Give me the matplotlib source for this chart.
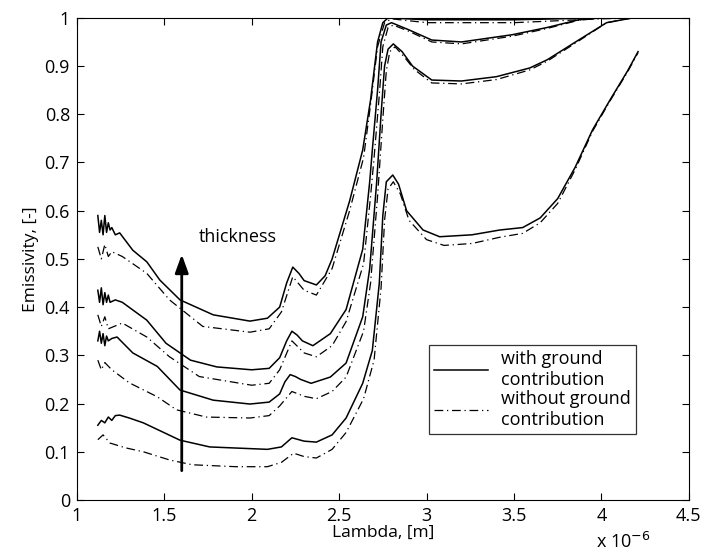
import matplotlib
matplotlib.use("Agg")
import matplotlib.pyplot as plt

plt.rcParams["font.family"] = ["Open Sans", "DejaVu Sans"]

# wavelength [1e-6 m] and emissivity, thin -> thick layers
# solid = with ground contribution, dash-dot = without ground contribution
lam_s1 = [1.12, 1.13, 1.14, 1.15, 1.16, 1.17, 1.18, 1.19, 1.20, 1.22, 1.245, 1.32, 1.40, 1.475, 1.59,
          1.78, 1.99, 2.09, 2.16, 2.20, 2.235, 2.27, 2.30, 2.37, 2.42, 2.46, 2.56, 2.635, 2.68, 2.72,
          2.75, 2.78, 3.0, 3.5, 4.0, 4.22]
emi_s1 = [0.59, 0.555, 0.58, 0.55, 0.59, 0.555, 0.575, 0.56, 0.565, 0.55, 0.554, 0.518, 0.494, 0.456,
          0.415, 0.384, 0.371, 0.377, 0.40, 0.45, 0.483, 0.47, 0.455, 0.446, 0.465, 0.50, 0.62, 0.726,
          0.83, 0.95, 0.99, 1.0, 0.996, 0.996, 1.0, 1.0]
lam_d1 = [1.12, 1.14, 1.16, 1.18, 1.20, 1.26, 1.40, 1.53, 1.72, 1.99, 2.10, 2.17, 2.235, 2.30, 2.37,
          2.46, 2.56, 2.64, 2.68, 2.72, 2.76, 2.80, 3.0, 3.5, 4.0, 4.22]
emi_d1 = [0.525, 0.50, 0.53, 0.505, 0.515, 0.505, 0.47, 0.415, 0.36, 0.348, 0.355, 0.39, 0.463, 0.435,
          0.425, 0.48, 0.60, 0.71, 0.82, 0.94, 0.99, 0.998, 0.99, 0.99, 0.998, 1.0]

lam_s2 = [1.12, 1.13, 1.14, 1.15, 1.16, 1.17, 1.18, 1.19, 1.22, 1.26, 1.40, 1.51, 1.65, 1.80, 2.0, 2.1,
          2.16, 2.20, 2.23, 2.26, 2.29, 2.35, 2.45, 2.54, 2.635, 2.675, 2.69, 2.72, 2.74, 2.77, 2.80,
          2.9, 3.03, 3.2, 3.49, 3.69, 3.87, 4.0, 4.22]
emi_s2 = [0.435, 0.41, 0.44, 0.405, 0.43, 0.41, 0.425, 0.41, 0.415, 0.41, 0.373, 0.325, 0.29, 0.276,
          0.27, 0.273, 0.295, 0.33, 0.35, 0.342, 0.33, 0.32, 0.345, 0.395, 0.52, 0.66, 0.726, 0.85,
          0.95, 0.985, 0.99, 0.975, 0.954, 0.95, 0.965, 0.98, 0.996, 1.0, 1.0]
lam_d2 = [1.12, 1.14, 1.16, 1.18, 1.26, 1.40, 1.53, 1.70, 2.0, 2.1, 2.16, 2.23, 2.30, 2.37, 2.46, 2.54,
          2.64, 2.68, 2.70, 2.73, 2.75, 2.78, 2.81, 2.9, 3.03, 3.2, 3.49, 3.69, 3.87, 4.0, 4.22]
emi_d2 = [0.384, 0.36, 0.38, 0.355, 0.367, 0.338, 0.297, 0.256, 0.238, 0.242, 0.27, 0.33, 0.305, 0.297,
          0.32, 0.37, 0.49, 0.63, 0.71, 0.84, 0.94, 0.98, 0.985, 0.972, 0.95, 0.946, 0.962, 0.978,
          0.995, 1.0, 1.0]

lam_s3 = [1.12, 1.13, 1.14, 1.15, 1.16, 1.17, 1.18, 1.20, 1.23, 1.32, 1.46, 1.59, 1.78, 1.99, 2.1,
          2.16, 2.19, 2.22, 2.25, 2.28, 2.34, 2.45, 2.54, 2.635, 2.675, 2.715, 2.74, 2.76, 2.78, 2.81,
          2.86, 2.92, 3.03, 3.2, 3.4, 3.59, 3.69, 3.87, 4.03, 4.18, 4.22]
emi_s3 = [0.33, 0.35, 0.325, 0.345, 0.32, 0.34, 0.33, 0.335, 0.338, 0.305, 0.277, 0.228, 0.207, 0.199,
          0.203, 0.22, 0.245, 0.26, 0.256, 0.25, 0.242, 0.255, 0.284, 0.38, 0.48, 0.66, 0.80, 0.90,
          0.935, 0.946, 0.93, 0.90, 0.871, 0.869, 0.878, 0.896, 0.913, 0.954, 0.99, 1.0, 1.0]
lam_d3 = [1.12, 1.14, 1.16, 1.20, 1.30, 1.46, 1.57, 1.74, 1.99, 2.1, 2.16, 2.23, 2.30, 2.37, 2.46, 2.54,
          2.64, 2.68, 2.72, 2.75, 2.77, 2.79, 2.82, 2.87, 2.93, 3.03, 3.2, 3.4, 3.59, 3.69, 3.87, 4.03,
          4.18, 4.22]
emi_d3 = [0.29, 0.27, 0.285, 0.27, 0.243, 0.214, 0.187, 0.172, 0.17, 0.175, 0.195, 0.225, 0.215, 0.21,
          0.225, 0.255, 0.35, 0.45, 0.63, 0.79, 0.89, 0.93, 0.94, 0.92, 0.893, 0.865, 0.863, 0.872,
          0.892, 0.91, 0.952, 0.99, 1.0, 1.0]

lam_s4 = [1.12, 1.14, 1.16, 1.18, 1.20, 1.22, 1.245, 1.30, 1.38, 1.59, 1.76, 2.09, 2.17, 2.23, 2.30,
          2.37, 2.46, 2.54, 2.635, 2.69, 2.73, 2.75, 2.77, 2.807, 2.84, 2.886, 2.98, 3.075, 3.26, 3.42,
          3.55, 3.65, 3.75, 3.85, 3.95, 4.05, 4.15, 4.21]
emi_s4 = [0.155, 0.165, 0.16, 0.172, 0.165, 0.175, 0.176, 0.17, 0.16, 0.124, 0.11, 0.105, 0.11, 0.129,
          0.122, 0.12, 0.135, 0.17, 0.242, 0.31, 0.45, 0.59, 0.66, 0.674, 0.655, 0.60, 0.56, 0.546,
          0.55, 0.56, 0.565, 0.585, 0.625, 0.69, 0.768, 0.83, 0.89, 0.93]
lam_d4 = [1.12, 1.15, 1.19, 1.28, 1.38, 1.53, 1.66, 1.91, 2.09, 2.17, 2.24, 2.30, 2.37, 2.46, 2.54, 2.64,
          2.70, 2.74, 2.76, 2.78, 2.81, 2.85, 2.9, 3.0, 3.1, 3.26, 3.42, 3.55, 3.65, 3.75, 3.85, 3.95,
          4.05, 4.15, 4.21]
emi_d4 = [0.125, 0.135, 0.118, 0.108, 0.10, 0.083, 0.073, 0.069, 0.069, 0.078, 0.097, 0.09, 0.087, 0.105,
          0.14, 0.21, 0.29, 0.44, 0.58, 0.645, 0.66, 0.635, 0.58, 0.54, 0.528, 0.532, 0.545, 0.553,
          0.575, 0.615, 0.685, 0.765, 0.828, 0.888, 0.928]

solid_curves = [(lam_s1, emi_s1), (lam_s2, emi_s2), (lam_s3, emi_s3), (lam_s4, emi_s4)]
dashed_curves = [(lam_d1, emi_d1), (lam_d2, emi_d2), (lam_d3, emi_d3), (lam_d4, emi_d4)]

arrow_lam = 1.6
arrow_from, arrow_to = 0.055, 0.515

fig = plt.figure(figsize=(7.05, 5.58), dpi=100)
ax = fig.add_axes([0.109, 0.104, 0.868, 0.864])

for i, (x, y) in enumerate(solid_curves):
    ax.plot(x, y, color="black", lw=1.1, label="with ground\ncontribution" if i == 0 else None)
for i, (x, y) in enumerate(dashed_curves):
    ax.plot(x, y, color="black", lw=0.9, linestyle=(0, (7, 3, 1, 3)),
            label="without ground\ncontribution" if i == 0 else None)

ax.annotate("", xy=(arrow_lam, arrow_to), xytext=(arrow_lam, arrow_from),
            arrowprops=dict(arrowstyle="-|>,head_length=1.1,head_width=0.4", color="black", lw=2))
ax.text(1.70, 0.545, "thickness", fontsize=13, va="center", ha="left")

ax.set_xlim(1, 4.5)
ax.set_ylim(0, 1)
ax.set_xticks([1, 1.5, 2, 2.5, 3, 3.5, 4, 4.5])
ax.set_xticklabels(["1", "1.5", "2", "2.5", "3", "3.5", "4", "4.5"])
ax.set_yticks([0, 0.1, 0.2, 0.3, 0.4, 0.5, 0.6, 0.7, 0.8, 0.9, 1])
ax.set_yticklabels(["0", "0.1", "0.2", "0.3", "0.4", "0.5", "0.6", "0.7", "0.8", "0.9", "1"])
ax.tick_params(direction="in", top=True, right=True, labelsize=13, length=5, pad=5)
ax.set_xlabel("Lambda, [m]", fontsize=12.5, labelpad=0)
ax.set_ylabel("Emissivity, [-]", fontsize=12.5, labelpad=4)
fig.text(0.845, 0.018, "x 10$^{-6}$", fontsize=13)

leg = ax.legend(loc="lower left", bbox_to_anchor=(0.575, 0.137), fontsize=13, frameon=True,
                fancybox=False, edgecolor="black", handlelength=3.0, borderpad=0.3, labelspacing=0.05,
                handletextpad=0.7, borderaxespad=0)
leg.get_frame().set_linewidth(0.9)

fig.savefig("out.png", dpi=100)
